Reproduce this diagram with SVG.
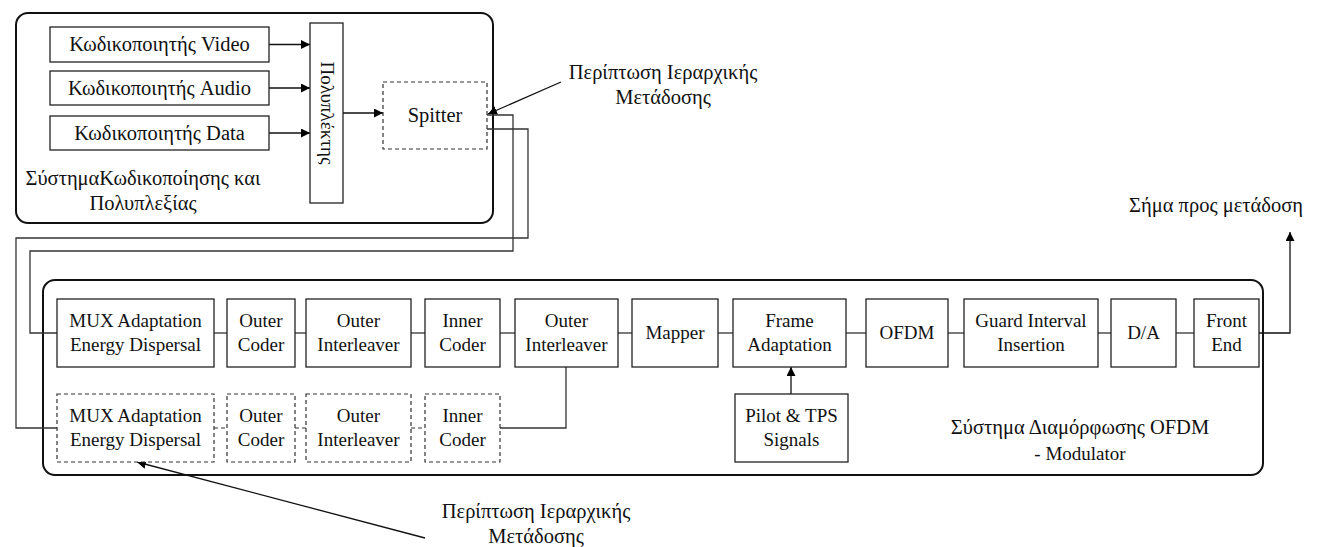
<svg xmlns="http://www.w3.org/2000/svg" width="1317" height="547" viewBox="0 0 1317 547">
  <style>
    text { font-family: "Liberation Serif", "DejaVu Serif", serif; font-size: 19px; fill: #111; text-anchor: middle; }
    text.gr { font-size: 20.5px; }
    .frame { fill: none; stroke: #111; stroke-width: 2; }
    .box { fill: #fff; stroke: #222; stroke-width: 1.3; }
    .dbox { fill: #fff; stroke: #333; stroke-width: 1.2; stroke-dasharray: 4 3; }
    .wire { fill: none; stroke: #333; stroke-width: 1.3; }
    .dwire { fill: none; stroke: #333; stroke-width: 1.2; stroke-dasharray: 4 3; }
    .arrow { fill: none; stroke: #111; stroke-width: 1.3; marker-end: url(#head); }
  </style>
  <defs>
    <marker id="head" viewBox="0 0 10 10" refX="10" refY="5" markerWidth="9" markerHeight="9" markerUnits="userSpaceOnUse" orient="auto">
      <path d="M0,0 L10,5 L0,10 z" fill="#000"/>
    </marker>
  </defs>

  <!-- system frames -->
  <g id="encoding-system">
    <rect class="frame" x="16" y="13" width="477" height="210" rx="12"/>
    <text class="gr" x="143" y="185">ΣύστημαΚωδικοποίησης και</text>
    <text class="gr" x="143" y="210">Πολυπλεξίας</text>
  </g>
  <g id="modulation-system">
    <rect class="frame" x="43" y="280" width="1220" height="195" rx="12"/>
    <text class="gr" x="1080" y="434">Σύστημα Διαμόρφωσης OFDM</text>
    <text x="1080" y="460">- Modulator</text>
  </g>

  <!-- connectors -->
  <g id="connectors">
    <line class="arrow" x1="269" y1="44.5" x2="310" y2="44.5"/>
    <line class="arrow" x1="269" y1="88" x2="310" y2="88"/>
    <line class="arrow" x1="269" y1="133" x2="310" y2="133"/>
    <line class="arrow" x1="343" y1="113" x2="383" y2="113"/>
    <line class="arrow" x1="561" y1="82" x2="488" y2="114"/>
    <polyline class="wire" points="487,115 513,115 513,251 30,251 30,333 57,333"/>
    <polyline class="wire" points="487,129 528,129 528,238 16,238 16,428 57,428"/>
    <line class="wire" x1="214" y1="333" x2="227" y2="333"/>
    <line class="wire" x1="295" y1="333" x2="306" y2="333"/>
    <line class="wire" x1="411" y1="333" x2="425" y2="333"/>
    <line class="wire" x1="500" y1="333" x2="515" y2="333"/>
    <line class="wire" x1="618" y1="333" x2="632" y2="333"/>
    <line class="wire" x1="718" y1="333" x2="733" y2="333"/>
    <line class="wire" x1="846" y1="333" x2="866" y2="333"/>
    <line class="wire" x1="948" y1="333" x2="964" y2="333"/>
    <line class="wire" x1="1098" y1="333" x2="1111" y2="333"/>
    <line class="wire" x1="1176" y1="333" x2="1194" y2="333"/>
    <polyline class="arrow" points="1259,333 1290,333 1290,232"/>
    <line class="dwire" x1="214" y1="428" x2="227" y2="428"/>
    <line class="dwire" x1="295" y1="428" x2="306" y2="428"/>
    <line class="dwire" x1="411" y1="428" x2="425" y2="428"/>
    <polyline class="wire" points="500,428 566,428 566,367"/>
    <line class="arrow" x1="791" y1="394" x2="791" y2="367"/>
    <line class="arrow" x1="425" y1="538" x2="137" y2="462"/>
  </g>

  <!-- encoders and multiplexing -->
  <g id="video-encoder">
    <rect class="box" x="50" y="27" width="219" height="35"/>
    <text class="gr" x="159.5" y="51">Κωδικοποιητής Video</text>
  </g>
  <g id="audio-encoder">
    <rect class="box" x="50" y="71" width="219" height="34"/>
    <text class="gr" x="159.5" y="94.5">Κωδικοποιητής Audio</text>
  </g>
  <g id="data-encoder">
    <rect class="box" x="50" y="116" width="219" height="34"/>
    <text class="gr" x="159.5" y="139.5">Κωδικοποιητής Data</text>
  </g>
  <g id="multiplexer">
    <rect class="box" x="310" y="23" width="33" height="180"/>
    <text transform="translate(326.5 113) rotate(90)" y="6">Πολυπλέκτης</text>
  </g>
  <g id="splitter">
    <rect class="dbox" x="383" y="82" width="104" height="67"/>
    <text x="435" y="122" style="font-size:20.5px">Spitter</text>
  </g>
  <g id="note-top">
    <text class="gr" x="663" y="79">Περίπτωση Ιεραρχικής</text>
    <text class="gr" x="663" y="104">Μετάδοσης</text>
  </g>

  <!-- main modulation chain -->
  <g id="mux-adaptation">
    <rect class="box" x="57" y="299" width="157" height="68"/>
    <text x="135.5" y="327">MUX Adaptation</text>
    <text x="135.5" y="351">Energy Dispersal</text>
  </g>
  <g id="outer-coder">
    <rect class="box" x="227" y="299" width="68" height="68"/>
    <text x="261" y="327">Outer</text>
    <text x="261" y="351">Coder</text>
  </g>
  <g id="outer-interleaver">
    <rect class="box" x="306" y="299" width="105" height="68"/>
    <text x="358.5" y="327">Outer</text>
    <text x="358.5" y="351">Interleaver</text>
  </g>
  <g id="inner-coder">
    <rect class="box" x="425" y="299" width="75" height="68"/>
    <text x="462.5" y="327">Inner</text>
    <text x="462.5" y="351">Coder</text>
  </g>
  <g id="outer-interleaver-2">
    <rect class="box" x="515" y="299" width="103" height="68"/>
    <text x="566.5" y="327">Outer</text>
    <text x="566.5" y="351">Interleaver</text>
  </g>
  <g id="mapper">
    <rect class="box" x="632" y="299" width="86" height="68"/>
    <text x="675" y="339">Mapper</text>
  </g>
  <g id="frame-adaptation">
    <rect class="box" x="733" y="299" width="113" height="68"/>
    <text x="789.5" y="327">Frame</text>
    <text x="789.5" y="351">Adaptation</text>
  </g>
  <g id="ofdm">
    <rect class="box" x="866" y="299" width="82" height="68"/>
    <text x="907" y="339">OFDM</text>
  </g>
  <g id="guard-interval">
    <rect class="box" x="964" y="299" width="134" height="68"/>
    <text x="1031" y="327">Guard Interval</text>
    <text x="1031" y="351">Insertion</text>
  </g>
  <g id="da">
    <rect class="box" x="1111" y="299" width="65" height="68"/>
    <text x="1143.5" y="339">D/A</text>
  </g>
  <g id="front-end">
    <rect class="box" x="1194" y="299" width="65" height="68"/>
    <text x="1226.5" y="327">Front</text>
    <text x="1226.5" y="351">End</text>
  </g>
  <g id="output-label">
    <text class="gr" x="1216" y="212">Σήμα προς μετάδοση</text>
  </g>

  <!-- hierarchical branch -->
  <g id="mux-adaptation-hp">
    <rect class="dbox" x="57" y="394" width="157" height="68"/>
    <text x="135.5" y="422">MUX Adaptation</text>
    <text x="135.5" y="446">Energy Dispersal</text>
  </g>
  <g id="outer-coder-hp">
    <rect class="dbox" x="227" y="394" width="68" height="68"/>
    <text x="261" y="422">Outer</text>
    <text x="261" y="446">Coder</text>
  </g>
  <g id="outer-interleaver-hp">
    <rect class="dbox" x="306" y="394" width="105" height="68"/>
    <text x="358.5" y="422">Outer</text>
    <text x="358.5" y="446">Interleaver</text>
  </g>
  <g id="inner-coder-hp">
    <rect class="dbox" x="425" y="394" width="75" height="68"/>
    <text x="462.5" y="422">Inner</text>
    <text x="462.5" y="446">Coder</text>
  </g>
  <g id="pilot-tps">
    <rect class="box" x="735" y="394" width="113" height="68"/>
    <text x="791.5" y="422">Pilot &amp; TPS</text>
    <text x="791.5" y="446">Signals</text>
  </g>
  <g id="note-bottom">
    <text class="gr" x="536" y="518">Περίπτωση Ιεραρχικής</text>
    <text class="gr" x="536" y="543">Μετάδοσης</text>
  </g>
</svg>
